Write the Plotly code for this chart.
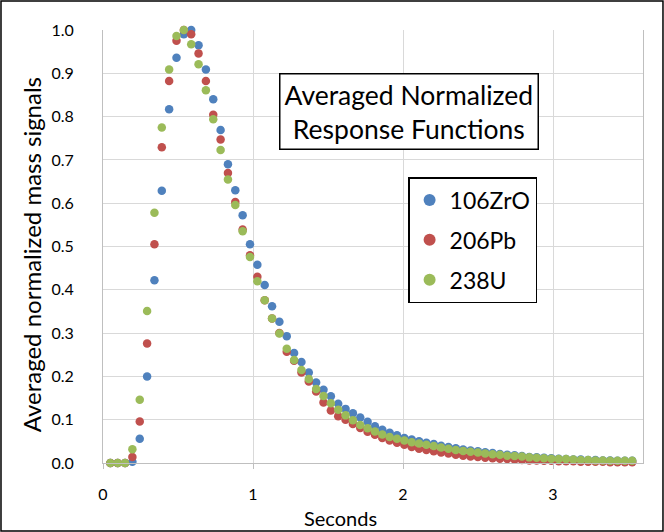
import plotly.graph_objects as go

# Time axis (seconds)
times = [0.049, 0.098, 0.147, 0.196, 0.245, 0.294, 0.343, 0.392, 0.441, 0.490,
         0.539, 0.588, 0.637, 0.686, 0.735, 0.784, 0.833, 0.882, 0.931, 0.980,
         1.029, 1.078, 1.127, 1.176, 1.225, 1.274, 1.323, 1.372, 1.421, 1.470,
         1.519, 1.568, 1.617, 1.666, 1.715, 1.764, 1.813, 1.862, 1.911, 1.960,
         2.009, 2.058, 2.107, 2.156, 2.205, 2.254, 2.303, 2.352, 2.401, 2.450,
         2.499, 2.548, 2.597, 2.646, 2.695, 2.744, 2.793, 2.842, 2.891, 2.940,
         2.989, 3.038, 3.087, 3.136, 3.185, 3.234, 3.283, 3.332, 3.381, 3.430,
         3.479, 3.528]

zro_106 = [0.0, 0.0, 0.0, 0.003, 0.056, 0.200, 0.422, 0.629, 0.817, 0.936,
           0.990, 1.000, 0.965, 0.909, 0.840, 0.769, 0.690, 0.630, 0.572, 0.505,
           0.458, 0.411, 0.362, 0.326, 0.293, 0.254, 0.233, 0.209, 0.186, 0.169,
           0.154, 0.137, 0.125, 0.115, 0.105, 0.095, 0.085, 0.077, 0.070, 0.064,
           0.058, 0.054, 0.050, 0.047, 0.044, 0.040, 0.037, 0.034, 0.031, 0.029,
           0.027, 0.025, 0.023, 0.021, 0.019, 0.018, 0.016, 0.014, 0.013, 0.012,
           0.011, 0.010, 0.009, 0.008, 0.008, 0.007, 0.007, 0.006, 0.006, 0.005,
           0.005, 0.005]

pb_206 = [0.0, 0.0, 0.0, 0.014, 0.096, 0.276, 0.505, 0.729, 0.882, 0.975,
          1.000, 0.990, 0.946, 0.882, 0.804, 0.747, 0.670, 0.603, 0.539, 0.480,
          0.430, 0.376, 0.334, 0.300, 0.257, 0.236, 0.209, 0.188, 0.165, 0.140,
          0.121, 0.108, 0.100, 0.090, 0.081, 0.072, 0.065, 0.058, 0.052, 0.047,
          0.042, 0.037, 0.033, 0.030, 0.027, 0.024, 0.022, 0.019, 0.017, 0.015,
          0.014, 0.012, 0.011, 0.010, 0.009, 0.008, 0.007, 0.006, 0.006, 0.005,
          0.005, 0.004, 0.004, 0.004, 0.003, 0.003, 0.003, 0.003, 0.002, 0.002,
          0.002, 0.002]

u_238 = [0.0, 0.0, 0.0, 0.032, 0.146, 0.351, 0.578, 0.775, 0.909, 0.986,
         1.000, 0.967, 0.921, 0.861, 0.794, 0.723, 0.655, 0.596, 0.535, 0.476,
         0.420, 0.376, 0.334, 0.299, 0.264, 0.238, 0.215, 0.194, 0.171, 0.155,
         0.138, 0.123, 0.110, 0.099, 0.088, 0.080, 0.073, 0.066, 0.060, 0.056,
         0.052, 0.048, 0.045, 0.042, 0.039, 0.036, 0.033, 0.030, 0.028, 0.026,
         0.024, 0.022, 0.020, 0.019, 0.017, 0.016, 0.015, 0.013, 0.012, 0.011,
         0.010, 0.009, 0.009, 0.008, 0.007, 0.007, 0.006, 0.006, 0.005, 0.005,
         0.005, 0.005]

series_names = ["106ZrO", "206Pb", "238U"]
series_values = [zro_106, pb_206, u_238]
series_colors = ["#4F81BD", "#C0504D", "#9BBB59"]

x_ticks = [0, 1, 2, 3]
y_ticks = [0.0, 0.1, 0.2, 0.3, 0.4, 0.5, 0.6, 0.7, 0.8, 0.9, 1.0]

FONT = "Lato"

fig = go.Figure()
for name, vals, col in zip(series_names, series_values, series_colors):
    fig.add_trace(go.Scatter(
        x=times, y=vals, mode="markers", name=name, legendgroup=name,
        marker=dict(color=col, size=8.5, line=dict(width=0)),
        cliponaxis=False,
    ))

fig.update_layout(
    width=664, height=532,
    margin=dict(l=103, r=21, t=30, b=69),
    plot_bgcolor="white", paper_bgcolor="white",
    font=dict(family=FONT, color="#000000"),
    showlegend=True,
    legend=dict(
        x=0.565, y=0.6605, xanchor="left", yanchor="top",
        bordercolor="#000000", borderwidth=1.5, bgcolor="white",
        font=dict(family=FONT, size=23, color="#000000"),
        tracegroupgap=7, itemsizing="constant",
    ),
    xaxis=dict(
        range=[0, 3.6], tickvals=x_ticks, ticktext=[str(t) for t in x_ticks],
        showgrid=True, gridcolor="#D9D9D9", gridwidth=1,
        showline=True, linecolor="#BFBFBF", linewidth=1,
        ticks="outside", ticklen=5, tickcolor="#BFBFBF",
        zeroline=False, tickfont=dict(family=FONT, size=16, color="#000000"),
        ticklabelstandoff=12,
    ),
    yaxis=dict(
        range=[0, 1.0], tickvals=y_ticks, ticktext=[f"{v:.1f}" for v in y_ticks],
        showgrid=True, gridcolor="#D9D9D9", gridwidth=1,
        showline=True, linecolor="#BFBFBF", linewidth=1, mirror=True,
        ticks="", zeroline=False,
        tickfont=dict(family=FONT, size=16, color="#000000"),
        ticklabelstandoff=25,
    ),
    annotations=[
        dict(text="Averaged Normalized<br>Response Functions",
             xref="paper", yref="paper", x=0.567, y=0.812,
             xanchor="center", yanchor="middle", showarrow=False,
             font=dict(family=FONT, size=26.5, color="#000000"),
             bordercolor="#000000", borderwidth=1.5, borderpad=4,
             bgcolor="white"),
        dict(text="Seconds", xref="paper", yref="paper",
             x=0.439, y=-0.127, xanchor="center", yanchor="middle",
             showarrow=False, font=dict(family=FONT, size=20, color="#000000")),
        dict(text="Averaged normalized mass signals", xref="paper", yref="paper",
             x=-0.133, y=0.48, xanchor="center", yanchor="middle", textangle=-90,
             showarrow=False, font=dict(family=FONT, size=24, color="#000000")),
    ],
    shapes=[
        dict(type="rect", xref="paper", yref="paper",
             x0=-0.1889, x1=1.037, y0=-0.157, y1=1.067,
             line=dict(color="#000000", width=1.5), fillcolor="rgba(0,0,0,0)",
             layer="above"),
    ],
)

fig.write_html(
    "out.html",
    config={"displayModeBar": False},
    post_script="document.body.style.margin='0';document.body.style.padding='0';"
                "document.body.style.overflow='hidden';",
)
